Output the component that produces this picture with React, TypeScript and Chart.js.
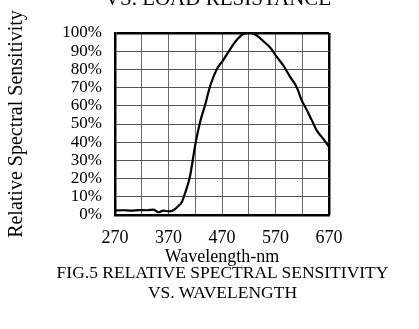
import React, { useEffect, useRef } from "react";
import { Chart, registerables } from "chart.js";

Chart.register(...registerables);

// ---- data ----
const wavelengths = [272, 285, 300, 315, 330, 342, 351, 360, 370, 379, 388, 395, 401, 410, 420, 429, 438, 448, 460, 472, 485, 497, 510, 522, 535, 547, 560, 572, 585, 597, 610, 619, 628, 638, 647, 659, 670];
const sensitivity = [2.5, 2.6, 2.4, 2.7, 2.6, 3.0, 1.5, 2.4, 2.0, 2.6, 4.8, 7.2, 12, 21, 38.5, 51, 60, 71, 80, 85, 91, 96, 99.5, 100, 98.6, 95.5, 92, 87, 82, 76, 70, 63, 58, 52, 46.5, 42, 37.5];
const xTickValues = [270, 370, 470, 570, 670];
const yTickValues = [0, 10, 20, 30, 40, 50, 60, 70, 80, 90, 100];
const gridColumns = 8;
const yTitle = "Relative Spectral Sensitivity";
const xTitle = "Wavelength-nm";
const captionLines = ["FIG.5 RELATIVE SPECTRAL SENSITIVITY", "VS. WAVELENGTH"];
const topCutText = "VS. LOAD RESISTANCE";

const FONT = "'Liberation Serif', 'Times New Roman', Times, serif";

export default function App() {
  const ref = useRef<HTMLCanvasElement>(null);

  useEffect(() => {
    if (!ref.current) return;
    const chart = new Chart(ref.current, {
      type: "line",
      data: {
        datasets: [
          {
            data: wavelengths.map((w, i) => ({ x: w, y: sensitivity[i] })),
            borderColor: "#000",
            borderWidth: 2.2,
            pointRadius: 0,
            cubicInterpolationMode: "monotone",
            xAxisID: "x",
            yAxisID: "y",
          },
        ],
      },
      options: {
        responsive: false,
        animation: false,
        layout: { padding: { left: 0, right: 90, top: 33, bottom: 64 } },
        plugins: {
          legend: { display: false },
          tooltip: { enabled: false },
          title: { display: false },
        },
        scales: {
          x: {
            type: "linear",
            position: "bottom",
            min: 270,
            max: 670,
            afterBuildTicks: (s: any) => {
              s.ticks = xTickValues.map((v) => ({ value: v }));
            },
            afterFit: (s: any) => {
              s.height = 50;
            },
            grid: { display: false, drawTicks: false },
            border: { display: true, color: "#000", width: 2.5 },
            ticks: {
              color: "#000",
              padding: 12,
              maxRotation: 0,
              autoSkip: false,
              font: { family: FONT, size: 18 },
            },
            title: {
              display: true,
              text: xTitle,
              color: "#000",
              font: { family: FONT, size: 18 },
              padding: { top: 0, bottom: -3 },
            },
          },
          xg: {
            type: "linear",
            position: "bottom",
            min: 0,
            max: gridColumns,
            ticks: { display: false, stepSize: 1 },
            grid: {
              drawTicks: false,
              color: (ctx: any) => (ctx.tick && ctx.tick.value === gridColumns ? "#000" : "#6a6a6a"),
              lineWidth: (ctx: any) => (ctx.tick && ctx.tick.value === gridColumns ? 2.5 : 1),
            },
            border: { display: false },
            afterFit: (s: any) => {
              s.height = 0;
            },
          },
          y: {
            type: "linear",
            min: 0,
            max: 100,
            afterBuildTicks: (s: any) => {
              s.ticks = yTickValues.map((v) => ({ value: v }));
            },
            afterFit: (s: any) => {
              s.width = 115;
            },
            ticks: {
              color: "#000",
              padding: 13,
              autoSkip: false,
              font: { family: FONT, size: 17 },
              callback: (v: any) => v + "%",
            },
            grid: {
              drawTicks: false,
              color: (ctx: any) => (ctx.tick && ctx.tick.value === 100 ? "#000" : "#555"),
              lineWidth: (ctx: any) => (ctx.tick && ctx.tick.value === 100 ? 2.5 : 1),
            },
            border: { display: true, color: "#000", width: 2.5 },
            title: {
              display: true,
              text: yTitle,
              color: "#000",
              font: { family: FONT, size: 20 },
              padding: { top: 5, bottom: 0 },
            },
          },
        },
      } as any,
    });
    return () => chart.destroy();
  }, []);

  return (
    <div
      style={{
        position: "fixed",
        left: 0,
        top: 0,
        width: 419,
        height: 329,
        overflow: "hidden",
        background: "#fff",
      }}
    >
      <canvas ref={ref} width={419} height={329} style={{ display: "block" }} />
      <div
        style={{
          position: "absolute",
          left: 8.5,
          top: -11.8,
          width: 419,
          textAlign: "center",
          fontFamily: FONT,
          fontSize: 21,
          lineHeight: "21px",
          color: "#000",
          whiteSpace: "nowrap",
        }}
      >
        {topCutText}
      </div>
      <div
        style={{
          position: "absolute",
          left: -27.5,
          top: 262.4,
          width: 500,
          textAlign: "center",
          fontFamily: FONT,
          fontSize: 17.5,
          lineHeight: "20px",
          color: "#000",
          whiteSpace: "nowrap",
        }}
      >
        {captionLines.map((l, i) => (
          <div key={i}>{l}</div>
        ))}
      </div>
    </div>
  );
}
